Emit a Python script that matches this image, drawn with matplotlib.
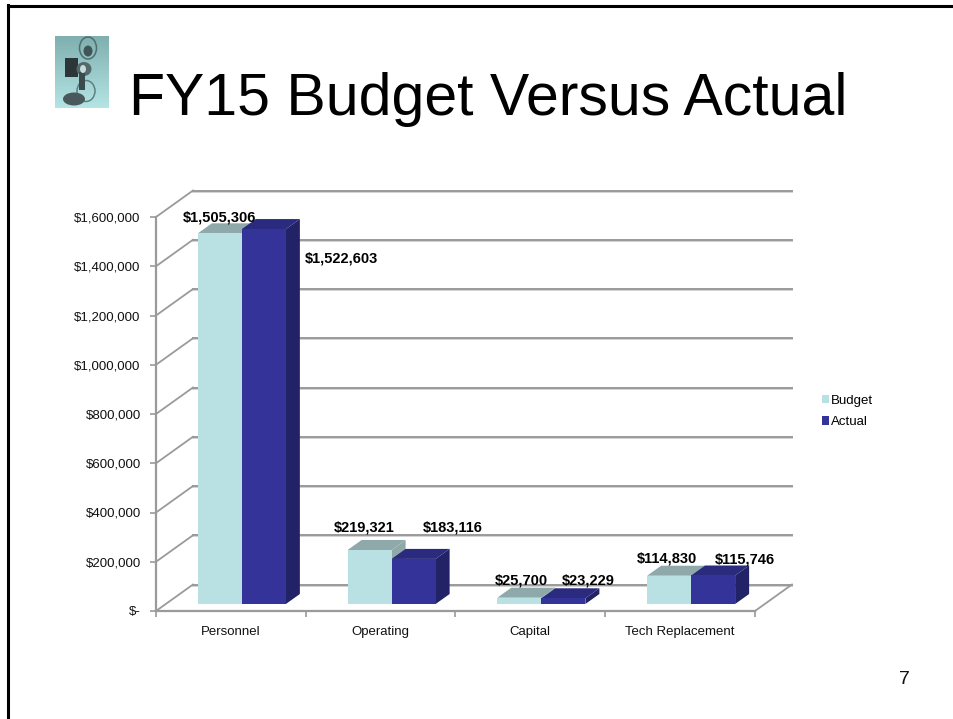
import numpy as np
import matplotlib
matplotlib.use('Agg')
import matplotlib.pyplot as plt
from matplotlib.lines import Line2D
from matplotlib.patches import Patch, Polygon, Ellipse, Rectangle
from matplotlib.ticker import FuncFormatter

categories = ['Personnel', 'Operating', 'Capital', 'Tech Replacement']
budget = [1505306, 219321, 25700, 114830]
actual = [1522603, 183116, 23229, 115746]
y_ticks = [0, 200000, 400000, 600000, 800000, 1000000, 1200000, 1400000, 1600000]

W, H = 954, 719
plt.rcParams['font.family'] = ['Liberation Sans', 'DejaVu Sans']

# plot box of the front plane, in pixels
LEFT, RIGHT, BASE, TOP = 156, 755, 611, 217
WALL_DX, WALL_DY = 37, 26.5    # how far the back wall sits behind the front plane
BAR_DX, BAR_DY = 11, 7         # bars stand a little way into the floor
DEPTH_DX, DEPTH_DY = 14, 10    # depth of the bar boxes
BAR_W = 44

LIGHT = ('#b9e0e3', '#8fa9ab', '#8fa9ab')  # front, top, side
DARK = ('#333399', '#2a2a7e', '#222266')
GRID = '#9a9a9a'
GRID_SOFT = '#d2d2d2'

fig = plt.figure(figsize=(W / 100, H / 100), dpi=100, facecolor='white')
ax = fig.add_axes([LEFT / W, 1 - BASE / H, (RIGHT - LEFT) / W, (BASE - TOP) / H])
ax.set_xlim(0, len(categories))
ax.set_ylim(0, y_ticks[-1])
ax.patch.set_alpha(0)

# data units per pixel
sx = len(categories) / (RIGHT - LEFT)
sy = y_ticks[-1] / (BASE - TOP)

# back wall gridlines and the slanted lines on the side wall
for v in y_ticks:
    y_back = v + WALL_DY * sy
    ax.plot([WALL_DX * sx, len(categories) + WALL_DX * sx], [y_back - 1.2 * sy] * 2,
            color=GRID_SOFT, lw=1.4, clip_on=False, zorder=1)
    ax.plot([WALL_DX * sx, len(categories) + WALL_DX * sx], [y_back] * 2,
            color=GRID, lw=1.4, clip_on=False, zorder=1.1)
    ax.plot([0, WALL_DX * sx], [v, y_back], color=GRID, lw=1.3, clip_on=False, zorder=1.1)
ax.plot([len(categories), len(categories) + WALL_DX * sx], [0, WALL_DY * sy],
        color=GRID, lw=1.3, clip_on=False, zorder=1.1)


def draw_box(x_left, value, colors, z):
    x_right = x_left + BAR_W * sx
    y_low = BAR_DY * sy
    y_top = y_low + value
    dx = DEPTH_DX * sx
    dy = DEPTH_DY * sy
    ax.add_patch(Polygon([(x_right, y_low), (x_right + dx, y_low + dy), (x_right + dx, y_top + dy),
                          (x_right, y_top)], closed=True, fc=colors[2], ec='none', zorder=z,
                         clip_on=False))
    ax.add_patch(Polygon([(x_left, y_top), (x_left + dx, y_top + dy), (x_right + dx, y_top + dy),
                          (x_right, y_top)], closed=True, fc=colors[1], ec='none', zorder=z,
                         clip_on=False))
    ax.bar(x_left, value, width=BAR_W * sx, bottom=y_low, align='edge', color=colors[0],
           zorder=z + 0.1, clip_on=False)


# centre of each bar pair on its category, pushed in along the floor
idx = np.arange(len(categories))
pair_mid = idx + 0.5 + BAR_DX * sx
for i in idx:
    draw_box(pair_mid[i] - BAR_W * sx, budget[i], LIGHT, 2 + i)
    draw_box(pair_mid[i], actual[i], DARK, 2.5 + i)

# value labels, nudged off the bar tops by hand like the original ones
budget_nudge = [(0, 16), (-5, 22), (2, 17), (-2, 17)]
actual_nudge = [(78, -29), (39, 31), (25, 18), (32, 16)]
for i in idx:
    ax.annotate(f'${budget[i]:,}', (pair_mid[i] - BAR_W * sx / 2, budget[i] + BAR_DY * sy),
                xytext=budget_nudge[i], textcoords='offset pixels', ha='center', va='center',
                fontsize=10.5, fontweight='bold', color='black', zorder=10, annotation_clip=False)
    ax.annotate(f'${actual[i]:,}', (pair_mid[i] + BAR_W * sx / 2, actual[i] + BAR_DY * sy),
                xytext=actual_nudge[i], textcoords='offset pixels', ha='center', va='center',
                fontsize=10.5, fontweight='bold', color='black', zorder=10, annotation_clip=False)

# axes
for side in ['top', 'right']:
    ax.spines[side].set_visible(False)
for side in ['left', 'bottom']:
    ax.spines[side].set_color(GRID)
    ax.spines[side].set_linewidth(1.6)
    ax.spines[side].set_zorder(9)
ax.set_yticks(y_ticks)
ax.yaxis.set_major_formatter(FuncFormatter(lambda v, _: '$-' if v == 0 else f'${v:,.0f}'))
ax.set_xticks(np.arange(len(categories) + 1))
ax.set_xticklabels([])
ax.set_xticks(idx + 0.5, minor=True)
ax.set_xticklabels(categories, minor=True)
ax.tick_params(axis='y', length=4, width=1.2, color=GRID, labelsize=9.5, pad=7, labelcolor='#111111')
ax.tick_params(axis='x', which='major', length=4, width=1.2, color=GRID, direction='out')
ax.tick_params(axis='x', which='minor', length=0, labelsize=9.5, pad=11, labelcolor='#111111')

# legend
handles = [Patch(fc=LIGHT[0], ec='none', label='Budget'), Patch(fc=DARK[0], ec='none', label='Actual')]
fig.legend(handles=handles, loc='upper left', bbox_to_anchor=(819 / W, 1 - 392 / H), frameon=False,
           fontsize=9.5, handlelength=0.55, handleheight=0.6, handletextpad=0.15,
           labelspacing=0.72, borderpad=0.2, borderaxespad=0)

# slide title, page number and frame
fig.text(129 / W, 1 - 115 / H, 'FY15 Budget Versus Actual', fontsize=42.5, color='black',
         ha='left', va='baseline')
fig.text(904 / W, 1 - 684 / H, '7', fontsize=14, color='#111111', ha='center', va='baseline')
fig.add_artist(Line2D([8.5 / W, 8.5 / W], [0, 1 - 4.5 / H], color='black', lw=2.2,
                      solid_capstyle='projecting'))
fig.add_artist(Line2D([8.5 / W, 1], [1 - 5.5 / H, 1 - 5.5 / H], color='black', lw=2.2,
                      solid_capstyle='projecting'))

# small projector icon next to the title
icon = fig.add_axes([55 / W, 1 - 108 / H, 54 / W, 72 / H])
icon.set_xlim(55, 109)
icon.set_ylim(108, 36)
icon.axis('off')
top_col = np.array([0x7f, 0xaf, 0xaf]) / 255
low_col = np.array([0xb4, 0xe4, 0xe4]) / 255
mix = np.linspace(0, 1, 72)[:, None, None]
icon.imshow(top_col * (1 - mix) + low_col * mix, extent=(55, 109, 108, 36), aspect='auto', zorder=0)
icon.add_patch(Ellipse((88, 48), 17, 22, fc='none', ec='#4f6e70', lw=1.1, zorder=1))
icon.add_patch(Ellipse((88, 51), 9, 11, fc='#3f5557', ec='none', zorder=2))
icon.add_patch(Rectangle((65, 58), 13, 19, fc='#2c3638', ec='none', zorder=2))
icon.add_patch(Ellipse((84, 69), 15, 14, fc='#55696b', ec='none', zorder=2))
icon.add_patch(Ellipse((83, 69), 6, 8, fc='#c6dcdc', ec='none', zorder=3))
icon.add_patch(Ellipse((86, 91), 18, 21, fc='none', ec='#5f7f80', lw=1.1, zorder=1))
icon.add_patch(Rectangle((79, 72), 6, 18, fc='#3b4a4c', ec='none', zorder=2))
icon.add_patch(Ellipse((74, 99), 22, 13, fc='#49595b', ec='none', zorder=2))

fig.savefig('out.png', dpi=100, facecolor='white')
